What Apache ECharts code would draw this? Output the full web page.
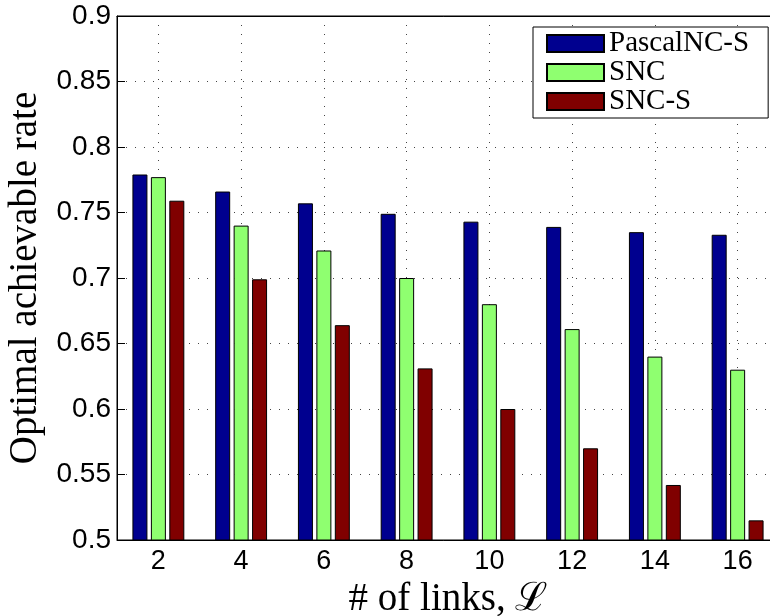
<!DOCTYPE html>
<html>
<head>
<meta charset="utf-8">
<script src="https://cdn.jsdelivr.net/npm/echarts@6/dist/echarts.min.js"></script>
<style>html,body{margin:0;padding:0;background:#fff;}#c{width:770px;height:616px;}</style>
</head>
<body>
<div id="c"></div>
<script>
var categories = ['2', '4', '6', '8', '10', '12', '14', '16'];
var pascalNCS = [0.779, 0.766, 0.757, 0.749, 0.743, 0.739, 0.735, 0.733];
var snc = [0.777, 0.740, 0.721, 0.700, 0.680, 0.661, 0.640, 0.630];
var sncS = [0.759, 0.699, 0.664, 0.631, 0.600, 0.570, 0.542, 0.515];
var yTicks = { min: 0.5, max: 0.9, interval: 0.05 };

var chart = echarts.init(document.getElementById('c'), null, { renderer: 'canvas' });
var dotted = { color: '#444', width: 1, type: [1, 8] };
function bar(name, data, color) {
  return {
    name: name, type: 'bar', data: data, barWidth: 15, barGap: '23%',
    itemStyle: { color: color, borderColor: '#000', borderWidth: 1 },
    xAxisIndex: 0, yAxisIndex: 0
  };
}
chart.setOption({
  backgroundColor: '#fff',
  animation: false,
  grid: { left: 117, top: 16, width: 662, height: 524, show: true, borderColor: '#000', borderWidth: 1,
    backgroundColor: 'transparent', outerBoundsMode: 'none', containLabel: false },
  legend: {
    orient: 'vertical', left: 533, top: 27,
    padding: [2, 19, 2, 13],
    itemWidth: 57, itemHeight: 17, itemGap: 0,
    icon: 'rect',
    backgroundColor: '#fff', borderColor: '#000', borderWidth: 1,
    textStyle: { fontFamily: 'Liberation Serif', fontSize: 29, lineHeight: 24, color: '#000' },
    data: ['PascalNC-S', 'SNC', 'SNC-S']
  },
  xAxis: [{
    type: 'category', data: categories, position: 'bottom',
    axisLine: { lineStyle: { color: '#000', width: 1 } },
    axisTick: { inside: true, length: 7, alignWithLabel: true, lineStyle: { color: '#000' } },
    axisLabel: { fontFamily: 'Liberation Sans', fontSize: 27, color: '#000', margin: 8 },
    splitLine: { show: true, alignWithLabel: true, lineStyle: dotted },
    name: '# of links, \u2112', nameLocation: 'middle', nameGap: 39,
    nameTextStyle: { fontFamily: 'Liberation Serif', fontSize: 39, color: '#000' }
  }, {
    type: 'category', data: categories, position: 'top',
    axisLine: { show: true, lineStyle: { color: '#000', width: 1 } },
    axisTick: { inside: true, length: 7, alignWithLabel: true, lineStyle: { color: '#000' } },
    axisLabel: { show: false }, splitLine: { show: false }
  }],
  yAxis: [{
    type: 'value', min: yTicks.min, max: yTicks.max, interval: yTicks.interval,
    axisLine: { show: true, lineStyle: { color: '#000', width: 1 } },
    axisTick: { show: true, inside: true, length: 8, lineStyle: { color: '#000' } },
    axisLabel: { fontFamily: 'Liberation Sans', fontSize: 28, color: '#000', margin: 6,
      formatter: function (v) { return String(Math.round(v * 100) / 100); } },
    splitLine: { show: true, lineStyle: dotted },
    name: 'Optimal achievable rate', nameLocation: 'middle', nameGap: 68, nameRotate: 90,
    nameTextStyle: { fontFamily: 'Liberation Serif', fontSize: 39, color: '#000' }
  }],
  series: [
    bar('PascalNC-S', pascalNCS, '#00008F'),
    bar('SNC', snc, '#8FFF70'),
    bar('SNC-S', sncS, '#800000')
  ]
});
</script>
</body>
</html>
